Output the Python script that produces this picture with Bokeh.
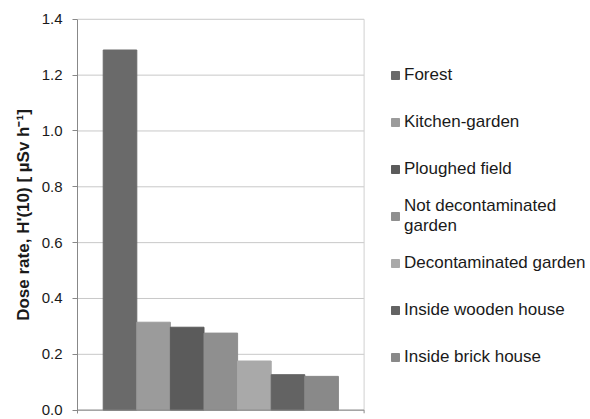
from bokeh.plotting import figure
from bokeh.models import Range1d, Legend, LegendItem, ColumnDataSource, FixedTicker, NumeralTickFormatter
from bokeh.embed import file_html
from bokeh.resources import INLINE

categories = ["Forest", "Kitchen-garden", "Ploughed field", "Not decontaminated\ngarden",
              "Decontaminated garden", "Inside wooden house", "Inside brick house"]
values = [1.29, 0.315, 0.297, 0.276, 0.176, 0.127, 0.121]
colors = ["#6a6a6a", "#9b9b9b", "#5b5b5b", "#8f8f8f", "#a9a9a9", "#636363", "#898989"]
y_ticks = [0.0, 0.2, 0.4, 0.6, 0.8, 1.0, 1.2, 1.4]

n = len(categories)
pad = 0.765                      # gap between plot edge and bars (in bar widths)
x_start = -0.5 - pad
x_border = n - 0.5 + pad         # right border of the plot area
x_end = x_start + 513 / 33.6     # frame extends under the legend area
y_min, y_max = -0.012, 1.41

src = ColumnDataSource(dict(x=list(range(n)), top=values, color=colors, label=categories))

p = figure(width=590, height=419, output_backend="svg", toolbar_location=None,
           x_range=Range1d(x_start, x_end), y_range=Range1d(y_min, y_max),
           min_border_left=77, min_border_right=0, min_border_top=16, min_border_bottom=6)
p.background_fill_color = "white"
p.border_fill_color = "white"
p.outline_line_color = None
p.xaxis.visible = False
p.xgrid.grid_line_color = None
p.ygrid.grid_line_color = None

# horizontal gridlines limited to the plot area
p.segment(x0=[x_start] * len(y_ticks), x1=[x_border] * len(y_ticks), y0=y_ticks, y1=y_ticks,
          line_color="#c8c8c8", line_width=1)
# right border of the plot area
p.segment(x0=[x_border], x1=[x_border], y0=[0], y1=[1.4], line_color="#d0d0d0", line_width=1)

r = p.vbar(x="x", top="top", bottom=0, width=1.0, source=src, fill_color="color", line_color="color")

# bottom axis line with end tick
p.segment(x0=[x_start], x1=[x_border], y0=[0], y1=[0], line_color="#888888", line_width=1)
p.segment(x0=[x_border], x1=[x_border], y0=[0], y1=[y_min], line_color="#888888", line_width=1)

ya = p.yaxis[0]
ya.ticker = FixedTicker(ticks=y_ticks)
ya.formatter = NumeralTickFormatter(format="0.0")
ya.bounds = (y_min, 1.4)
ya.minor_tick_line_color = None
ya.major_tick_in = 0
ya.major_tick_out = 5
ya.axis_line_color = "#888888"
ya.major_tick_line_color = "#888888"
ya.major_label_text_font = "Liberation Sans"
ya.major_label_text_font_size = "15px"
ya.major_label_text_color = "#1a1a1a"
ya.major_label_standoff = 10
ya.axis_label = "Dose rate, H'(10) [ µSv h\u207b\u00b9]"
ya.axis_label_text_font = "Liberation Sans"
ya.axis_label_text_font_style = "bold"
ya.axis_label_text_font_size = "17px"
ya.axis_label_text_color = "#1a1a1a"
ya.axis_label_standoff = 6

items = [LegendItem(label=categories[i], renderers=[r], index=i) for i in range(n)]
legend = Legend(items=items, location=(313, 36))
legend.border_line_color = None
legend.background_fill_alpha = 0
legend.padding = 0
legend.margin = 0
legend.spacing = 7
legend.label_height = 40
legend.glyph_width = 10
legend.glyph_height = 10
legend.label_standoff = 4
legend.label_text_font = "Liberation Sans"
legend.label_text_font_size = "17px"
legend.label_text_line_height = 1.2
legend.label_text_color = "#1a1a1a"
p.add_layout(legend, "center")

open("out.html", "w").write(file_html(p, INLINE))
